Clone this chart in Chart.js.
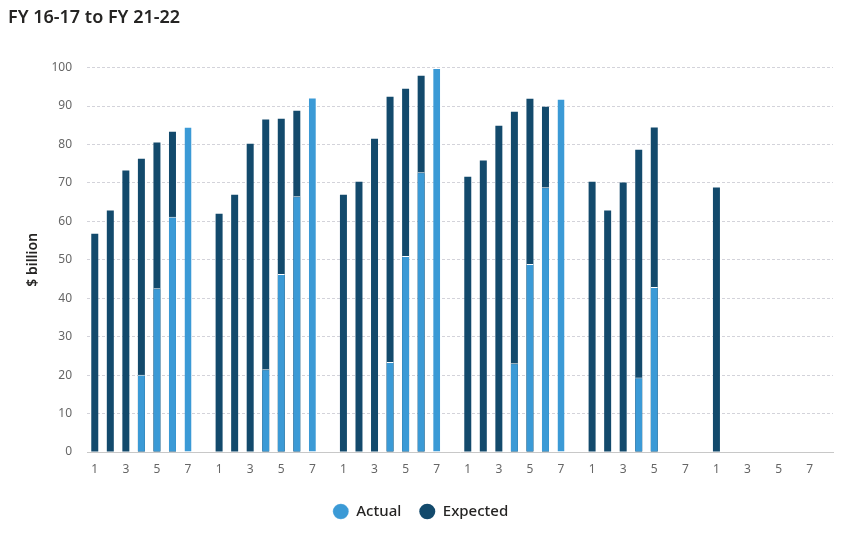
<!DOCTYPE html>
<html>
<head>
<meta charset="utf-8">
<script src="https://cdn.jsdelivr.net/npm/chart.js@4"></script>
<style>
html,body{margin:0;padding:0;background:#fff;}
#wrap{width:843px;height:536px;position:relative;}
</style>
</head>
<body>
<div id="wrap"><canvas id="c"></canvas></div>
<script>
const chartTitle = 'FY 16-17 to FY 21-22';
const yTitle = '$ billion';
const categories = [
  '1','2','3','4','5','6','7','',
  '1','2','3','4','5','6','7','',
  '1','2','3','4','5','6','7','',
  '1','2','3','4','5','6','7','',
  '1','2','3','4','5','6','7','',
  '1','2','3','4','5','6','7',''
];
const actual = [
  null,null,null,20.1,42.6,61.2,84.6,null,
  null,null,null,21.5,46.3,66.5,92.2,null,
  null,null,null,23.4,51.0,72.8,99.9,null,
  null,null,null,23.1,48.9,68.9,91.9,null,
  null,null,null,19.4,42.9,null,null,null,
  null,null,null,null,null,null,null,null
];
const expected = [
  56.8,62.8,73.2,76.3,80.5,83.3,null,null,
  62.0,66.9,80.2,86.5,86.7,88.8,null,null,
  66.9,70.3,81.5,92.4,94.5,97.9,null,null,
  71.6,75.8,84.9,88.5,91.9,89.8,null,null,
  70.3,62.8,70.1,78.6,84.4,null,null,null,
  68.8,null,null,null,null,null,null,null
];
const yTicks = [0,10,20,30,40,50,60,70,80,90,100];

const FONT = "'Noto Sans', 'Open Sans', sans-serif";
const LIGHT = '#3b9ad6';
const DARK = '#134a6c';

new Chart(document.getElementById('c'), {
  type: 'bar',
  data: {
    labels: categories,
    datasets: [
      {
        label: 'Actual', data: actual, backgroundColor: LIGHT,
        borderColor: '#ffffff', borderWidth: {top: 1, left: 0, right: 0, bottom: 0},
        stack: 's', categoryPercentage: 0.9, barPercentage: 0.5
      },
      {
        label: 'Expected', data: expected, backgroundColor: DARK,
        borderWidth: 0,
        stack: 's', categoryPercentage: 0.9, barPercentage: 0.5
      }
    ]
  },
  options: {
    responsive: true,
    maintainAspectRatio: false,
    animation: false,
    events: [],
    layout: {padding: {left: 8, right: 10, top: 0, bottom: 7}},
    plugins: {
      title: {
        display: true, text: chartTitle, align: 'start', color: '#252423',
        font: {family: FONT, size: 18, weight: '600'},
        padding: {top: 7, bottom: 39}
      },
      legend: {
        position: 'bottom',
        labels: {
          usePointStyle: true, pointStyle: 'circle', boxHeight: 11, pointStyleWidth: 16,
          padding: 18, color: '#252423',
          font: {family: FONT, size: 15, weight: '500'}
        }
      },
      tooltip: {enabled: false}
    },
    scales: {
      x: {
        stacked: true,
        grid: {display: true, drawOnChartArea: false, drawTicks: false},
        border: {display: true, color: '#c8c8c8', width: 1},
        ticks: {
          autoSkip: false, maxRotation: 0, minRotation: 0, padding: 10,
          color: '#666666', font: {family: FONT, size: 12},
          callback: function(v, i) { return i % 2 === 0 ? categories[i] : ''; }
        },
        afterFit: function(s) { s.height = 34; }
      },
      y: {
        stacked: false,
        min: 0, max: 100,
        afterBuildTicks: function(s) { s.ticks = yTicks.map(v => ({value: v})); },
        grid: {color: '#d3d3da', lineWidth: 1, drawTicks: false, borderDash: [3, 2]},
        border: {display: false, dash: [3, 2]},
        ticks: {padding: 15, color: '#666666', font: {family: FONT, size: 12}},
        title: {
          display: true, text: yTitle, color: '#252423',
          font: {family: FONT, size: 14, weight: '600'},
          padding: {top: 17, bottom: 0}
        },
        afterFit: function(s) { s.width = 79; }
      }
    }
  }
});
</script>
</body>
</html>
